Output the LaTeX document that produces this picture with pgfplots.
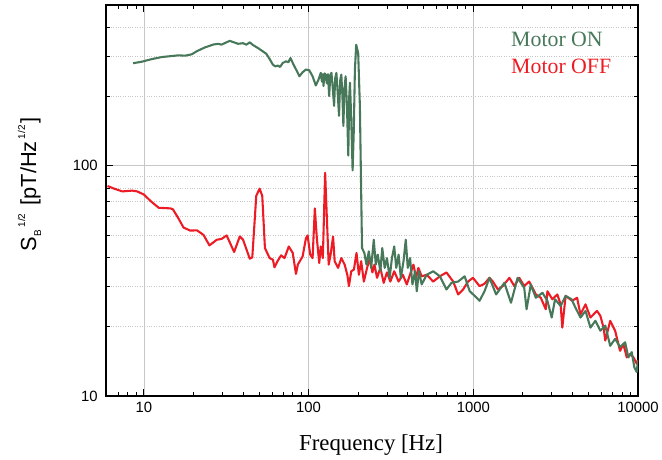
\documentclass[border=0pt]{standalone}
\usepackage{fontspec}
\setmainfont{Liberation Serif}
\newfontfamily\arial{Liberation Sans}
\usepackage{pgfplots}
\pgfplotsset{compat=1.18}
\definecolor{mgreen}{RGB}{72,120,90}
\definecolor{mred}{RGB}{237,28,36}

\pgfplotstableread{
f v
8.6 279
9.76 283.6
11.2 291
12.9 297
16.2 302
17.8 301
19.5 305
21.0 315
23.5 327
26.4 336.5
28.3 339
29.6 336
31.0 341.5
33.2 349
34.8 345
37.3 339
40 341
41.9 336
43.9 344
46.0 334.6
49.3 324.8
52.8 314
55.3 307
58.0 291
60.7 275
62.7 270.5
65.0 272.5
67.1 269
69.7 280
73 284.5
75.4 281.7
77.6 294
80.1 280
82 270.5
85 257.5
87.9 245
92 255
96.3 262
100.9 260
105.7 245
110.6 223.5
114.9 237
118.6 253.5
120.5 232
122 250
123.1 222
125 252
127 249
129 228
131 250
133.3 201
135.5 248
137.6 253.5
140 220
142.8 182
145 240
147.5 253.5
150 210
153 164.8
155.5 235
158 249
160.5 200
162.6 149
165 215
167.8 245
171 180
174.2 110.8
176.5 200
178.3 229.5
181.5 160
185 95.5
188 140
191 260
194.5 335.7
200 309
204.8 182
211 43.9
218 41.8
224.5 37.2
232 42.5
239.7 36
248.7 47.7
255.8 37.2
263 41.1
272.6 34.8
280 43.9
289.7 36
299 39.7
310.5 32.6
320.6 39.7
331 44.6
340.5 36
352 41.1
363 32.6
377 38.5
389 47.7
400 36
413 39.7
427 30.5
443 34.8
453.6 28.5
468 34.8
486 30.5
521 33.6
571 34.8
627 33.1
687 29.0
737 31.0
809 31.4
886 33.1
951 28.5
1020 27.2
1091 25.9
1170 28.5
1253 32.6
1376 27.6
1544 31.0
1694 25.4
1858 32.6
2037 29.5
2106 23.8
2234 30.5
2396 26.7
2630 28.05
2818 25.9
2992 21.9
3135 26.3
3390 24.6
3634 27.2
3948 26.3
4170 24.2
4473 21.9
4800 23.4
5143 19.8
5510 21.2
5906 19.2
6327 20.2
6780 16.5
7263 17.7
7783 16.3
8351 17.1
8742 14.7
9160 15.5
9504 13.3
9820 12.7
10000 14.3
}\motoron

\pgfplotstableread{
f v
6.01 81.7
6.59 79.6
7.39 77.4
8.5 78
9.1 77.4
10 75
11.0 70.2
12.3 65.7
14.5 65.3
15.0 64.7
16.2 59.1
17.4 53.9
19.1 52.3
21.0 52.4
23.0 50.1
25.0 45.1
27.7 47.7
29.6 48.1
31.8 49.8
35.3 42.2
38.2 49.3
40 47.7
43.9 39.5
45.5 40
48.1 74
50.4 79.6
52.3 74
54.3 43.9
58 39.7
60.7 39.1
62.1 36.2
65.0 38.7
68.1 40.8
71.4 39.7
75.8 44.6
80.1 41.8
83.8 33.9
86 37.2
92 40.4
96.3 48.4
98.6 49.8
102.3 41.1
105.7 39.7
109.1 65.3
112.2 48.4
116 37.8
118.6 44.6
122 39.7
126 93.3
129 60
132.4 37.2
136 41.1
140.8 49.3
143.9 38.5
151 36
158 39.7
165.5 37.2
171.8 33.6
175.8 30.0
181.5 34.8
188.4 35.4
195.4 41.8
202 33.6
208.5 38.5
216.5 31.4
226.5 36
235.3 39.7
243.9 34.4
250.9 37.2
260.4 32.6
272.6 36
285.8 31.0
299 34.4
313.5 31.4
331 34.8
352 31.4
373.5 33.6
394.5 30.5
417 34.4
433 37.2
449 32.6
464 36
486 33.1
521 33.6
571 31.4
627 33.1
687 34.4
755 31.4
809 27.6
867 29.0
929 31.4
995 32.6
1091 30.0
1169 30.7
1253 32.6
1315 31.4
1409 29.0
1510 30.0
1656 32.6
1775 30.0
1901 32.6
2037 30.0
2183 31.4
2289 29.5
2396 27.6
2568 26.7
2754 23.8
2818 28.5
3020 26.3
3236 27.6
3390 25.0
3470 19.8
3634 27.2
3984 25.9
4267 26.7
4473 22.6
4800 25.0
5143 21.9
5636 23.4
5906 22.3
6181 19.8
6327 17.4
6780 21.2
7263 19.2
7783 15.7
8147 16.8
8547 14.7
8954 15.2
9380 14.7
9820 13.8
10000 14.3
}\motoroff

\begin{document}
\begin{tikzpicture}
\begin{axis}[
  scale only axis, width=536pt, height=394pt,
  xmode=log, ymode=log,
  xmin=5.9, xmax=10000, ymin=10, ymax=500,
  xtick={10,100,1000,10000}, xticklabels={10,100,1000,10000},
  ytick={10,100}, yticklabels={10,100},
  minor xtick={7,8,9,20,30,40,50,60,70,80,90,200,300,400,500,600,700,800,900,2000,3000,4000,5000,6000,7000,8000,9000},
  minor ytick={20,30,40,50,60,70,80,90,200,300,400},
  tick align=inside,
  major tick length=7pt, minor tick length=4pt,
  every tick/.style={black, line width=1pt},
  axis line style={line width=1.7pt},
  xmajorgrids, ymajorgrids, yminorgrids,
  major grid style={black!22, line width=0.8pt},
  minor grid style={black!22, dotted, line width=0.8pt},
  tick label style={font=\arial\fontsize{15}{15}\selectfont},
  xticklabel style={yshift=-3pt},
  yticklabel style={xshift=-5pt},
  xlabel={Frequency [Hz]},
  xlabel style={font=\fontsize{23}{23}\selectfont, at={(axis description cs:0.498,-0.127)}, anchor=center},
  ylabel={S\raisebox{-5pt}{\fontsize{10}{10}\selectfont B}\hspace{3pt}\raisebox{11pt}{\fontsize{10}{10}\selectfont 1/2}\hspace{2pt} [pT/Hz\hspace{2pt}\raisebox{11pt}{\fontsize{10}{10}\selectfont 1/2}\hspace{2pt}]},
  ylabel style={font=\arial\fontsize{22}{22}\selectfont, at={(axis description cs:-0.144,0.541)}, anchor=center, rotate=0},
  clip=true,
]
\addplot[mred, line width=2.1pt, line join=round] table[x=f, y=v] {\motoroff};
\addplot[mgreen, line width=2.1pt, line join=round] table[x=f, y=v] {\motoron};
\node[anchor=west, text=mgreen, font=\fontsize{22}{22}\selectfont] at (axis description cs:0.755,0.913) {Motor ON};
\node[anchor=west, text=mred, font=\fontsize{22}{22}\selectfont] at (axis description cs:0.755,0.842) {Motor OFF};
\end{axis}
\path (current axis.south west) ++(-107pt,-62pt) rectangle ++(662pt,461pt);
\end{tikzpicture}
\end{document}
